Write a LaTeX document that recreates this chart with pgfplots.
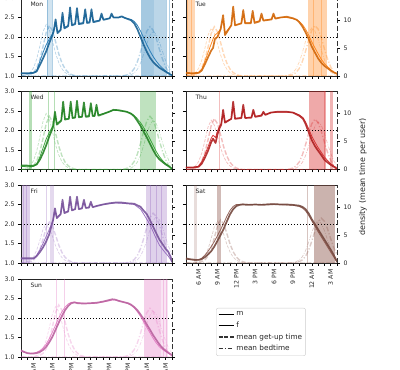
\documentclass[border=0pt]{standalone}
\usepackage{fontspec}
\setmainfont{DejaVu Sans}
\usepackage{pgfplots}
\usepackage{pgfplotstable}
\pgfplotsset{compat=1.18}
\definecolor{cMon}{HTML}{1F77B4}
\definecolor{cTue}{HTML}{FF7F0E}
\definecolor{cWed}{HTML}{2CA02C}
\definecolor{cThu}{HTML}{D62728}
\definecolor{cFri}{HTML}{9467BD}
\definecolor{cSat}{HTML}{8C564B}
\definecolor{cSun}{HTML}{E377C2}
\pgfplotsset{
 base/.style={scale only axis, width=151pt, height=78pt, anchor=south west, xmin=4, xmax=28,
   tick align=outside, major tick length=3pt,
   every tick/.style={black, line width=0.5pt},
   every tick label/.append style={font=\fontsize{6.2}{7}\selectfont, text=black!85},
   /pgf/number format/assume math mode=true},
 main/.style={base, ymin=1, ymax=3, ytick={1,1.5,2,2.5,3},
   yticklabel style={/pgf/number format/.cd, fixed, fixed zerofill, precision=1},
   xtick={4,...,28}, axis x line*=box, axis y line*=left, xtick pos=left,
   axis line style={black!85, line width=0.6pt}},
 twin/.style={base, ymin=0, ymax=13.93, ytick={0,5,10}, axis y line*=right, axis x line=none,
   y axis line style={black!80, line width=0.6pt, dash pattern=on 5pt off 2.5pt}},
 noxl/.style={xticklabel={\relax}},
 noyl/.style={yticklabel={\relax}},
 bottomlab/.style={xticklabels={,,6 AM,,,9 AM,,,12 PM,,,3 PM,,,6 PM,,,9 PM,,,12 AM,,,3 AM,},
   xticklabel style={rotate=90, anchor=east}},
 mline/.style={color=#1!82!black, line width=1.7pt, opacity=0.9, line join=round},
 fline/.style={color=#1, line width=0.8pt, opacity=0.9, line join=round},
 gmline/.style={line width=1.4pt, opacity=0.3, dash pattern=on 4.5pt off 2pt},
 gfline/.style={line width=0.7pt, opacity=0.3, dash pattern=on 3pt off 1.5pt},
 bmline/.style={line width=1.4pt, opacity=0.3, dash pattern=on 5pt off 2pt on 1.2pt off 2pt},
 bfline/.style={line width=0.7pt, opacity=0.3, dash pattern=on 3.5pt off 1.5pt on 0.8pt off 1.5pt},
}
\newcommand{\vspan}[4]{\addplot[draw=none, fill=#1, fill opacity=#4] coordinates {(#2,1)(#2,3)(#3,3)(#3,1)} -- cycle;}
\newcommand{\vln}[2]{\addplot[#1, line width=0.5pt, opacity=0.35] coordinates {(#2,1)(#2,3)};}
\newcommand{\dotl}{\addplot[black, line width=0.7pt, dash pattern=on 0.7pt off 2.3pt] coordinates {(4,2)(28,2)};}
\newcommand{\daylab}[1]{\node[anchor=west, font=\fontsize{6}{7}\selectfont, text=black!85] at (rel axis cs:0.04,0.92) {#1};}

\pgfplotstableread{
h m f
4 1.07 1.06
5 1.07 1.06
6 1.08 1.08
6.5 1.12 1.14
7 1.28 1.38
7.5 1.45 1.6
8 1.63 1.8
8.5 1.85 1.95
9 2.05 2.08
9.2 2.15 2.16
9.5 2.45 2.38
9.8 2.1 2.12
10.3 2.18 2.2
10.6 2.62 2.52
10.9 2.22 2.24
11.5 2.28 2.3
11.8 2.76 2.62
12.1 2.3 2.32
12.6 2.33 2.34
12.9 2.74 2.62
13.2 2.33 2.35
13.9 2.35 2.37
14.2 2.71 2.6
14.5 2.36 2.38
14.9 2.37 2.39
15.2 2.71 2.6
15.5 2.38 2.4
16.5 2.42 2.43
16.8 2.6 2.54
17.1 2.44 2.45
18.1 2.48 2.48
18.4 2.6 2.56
18.7 2.5 2.5
19.5 2.5 2.5
20 2.53 2.52
20.5 2.49 2.49
21 2.46 2.47
21.5 2.43 2.45
22 2.35 2.4
22.5 2.2 2.3
23 2.0 2.15
23.5 1.8 1.98
24 1.62 1.8
24.5 1.47 1.64
25 1.36 1.5
25.5 1.28 1.38
26 1.21 1.28
26.5 1.16 1.2
27 1.11 1.13
27.5 1.06 1.07
28 1.02 1.01
}\tMon
\pgfplotstableread{
h m f
4 1.08 1.07
5 1.07 1.06
6 1.08 1.09
6.5 1.14 1.17
7 1.3 1.38
7.5 1.48 1.6
8 1.65 1.82
8.3 1.72 1.95
8.6 1.95 2.05
9 2.0 2.1
9.5 2.2 2.2
9.9 2.56 2.45
10.2 2.05 2.1
11.2 2.3 2.3
11.5 2.78 2.62
11.8 2.3 2.3
12.8 2.35 2.35
13.1 2.69 2.58
13.4 2.35 2.36
14.3 2.35 2.37
14.6 2.67 2.56
14.9 2.36 2.38
15.7 2.4 2.42
16 2.6 2.52
16.3 2.42 2.43
17.6 2.45 2.46
17.9 2.6 2.55
18.2 2.47 2.48
19 2.5 2.5
20 2.52 2.5
21 2.48 2.47
21.6 2.44 2.44
22 2.38 2.4
22.5 2.27 2.32
23 2.12 2.2
23.5 1.95 2.05
24 1.75 1.87
24.5 1.6 1.72
25 1.45 1.57
25.5 1.34 1.43
26 1.26 1.32
26.5 1.2 1.24
27 1.14 1.16
27.5 1.09 1.1
28 1.06 1.05
}\tTue
\pgfplotstableread{
h m f
4 1.1 1.08
5 1.1 1.07
5.5 1.09 1.07
6 1.1 1.08
6.5 1.13 1.14
7 1.25 1.32
7.5 1.42 1.55
8 1.62 1.78
8.5 1.85 1.95
9 2.05 2.1
9.1 2.1 2.12
9.4 2.48 2.4
9.7 2.15 2.18
10.4 2.25 2.27
10.7 2.74 2.6
11 2.28 2.3
11.6 2.3 2.3
11.9 2.74 2.6
12.2 2.32 2.32
12.6 2.33 2.34
12.9 2.76 2.62
13.2 2.34 2.35
13.7 2.35 2.36
14 2.72 2.6
14.3 2.35 2.37
14.8 2.36 2.38
15.1 2.7 2.6
15.4 2.37 2.38
15.7 2.37 2.39
16 2.66 2.57
16.3 2.38 2.4
17 2.42 2.43
18 2.48 2.48
18.7 2.53 2.52
19.5 2.52 2.51
20.8 2.48 2.48
21.5 2.43 2.44
22 2.36 2.38
22.4 2.27 2.32
23 2.12 2.2
23.4 2.0 2.1
24 1.82 1.94
24.5 1.66 1.78
25 1.5 1.62
25.5 1.36 1.46
26 1.26 1.33
26.6 1.18 1.21
27 1.13 1.15
27.5 1.08 1.09
28 1.02 1.02
}\tWed
\pgfplotstableread{
h m f
4 1.05 1.05
5 1.05 1.05
6 1.07 1.08
6.5 1.15 1.2
7 1.3 1.38
7.5 1.48 1.58
8 1.7 1.8
8.3 1.79 1.88
8.7 1.68 1.82
9 1.9 1.98
9.3 2.05 2.1
9.6 2.15 2.18
9.9 2.53 2.42
10.2 2.2 2.22
11.2 2.3 2.3
11.5 2.74 2.6
11.8 2.3 2.31
12.8 2.32 2.33
13.1 2.66 2.55
13.4 2.32 2.33
14.4 2.33 2.34
14.7 2.53 2.47
15 2.35 2.36
16 2.38 2.4
16.3 2.48 2.45
16.6 2.4 2.41
17.5 2.46 2.46
18.5 2.48 2.47
20 2.48 2.47
21 2.46 2.46
22 2.38 2.4
22.6 2.3 2.33
23 2.17 2.22
23.4 2.0 2.08
24 1.75 1.85
24.5 1.6 1.7
25 1.48 1.56
25.5 1.37 1.44
26 1.25 1.32
26.5 1.18 1.23
27 1.12 1.15
27.5 1.07 1.09
28 1.02 1.02
}\tThu
\pgfplotstableread{
h m f
4 1.12 1.1
5 1.12 1.1
6 1.12 1.1
6.5 1.18 1.2
7 1.28 1.34
7.5 1.4 1.5
8 1.55 1.68
8.5 1.74 1.86
9 2.05 2.05
9.1 2.1 2.1
9.4 2.4 2.32
9.7 2.15 2.16
10.3 2.25 2.26
10.6 2.62 2.52
10.9 2.28 2.3
11.5 2.32 2.33
11.8 2.7 2.6
12.1 2.35 2.35
12.6 2.38 2.38
12.9 2.7 2.6
13.2 2.38 2.39
13.7 2.4 2.41
14 2.62 2.55
14.3 2.41 2.42
14.8 2.42 2.43
15.1 2.57 2.52
15.4 2.43 2.44
16 2.46 2.46
17 2.5 2.5
18 2.53 2.52
19 2.55 2.54
20 2.55 2.53
21 2.53 2.52
22 2.52 2.5
23 2.44 2.38
23.4 2.36 2.28
24 2.25 2.12
24.5 2.1 1.98
25 1.93 1.8
25.5 1.76 1.62
26 1.6 1.46
26.6 1.46 1.33
27 1.36 1.25
27.4 1.29 1.18
27.8 1.15 1.08
28 1.03 1.02
}\tFri
\pgfplotstableread{
h m f
4 1.12 1.1
4.5 1.1 1.09
5 1.09 1.08
5.5 1.08 1.07
6 1.08 1.08
6.5 1.1 1.12
7 1.15 1.2
7.5 1.22 1.3
8 1.3 1.42
8.5 1.42 1.55
9 1.57 1.7
9.5 1.72 1.86
10 1.88 2.02
10.5 2.07 2.2
11 2.25 2.35
11.5 2.38 2.45
12 2.46 2.5
12.5 2.49 2.5
13 2.5 2.51
14 2.49 2.5
15 2.5 2.5
16 2.49 2.5
17 2.5 2.51
18 2.51 2.51
19 2.5 2.5
20 2.5 2.49
21 2.49 2.48
22 2.47 2.45
22.5 2.44 2.41
23 2.38 2.34
23.5 2.27 2.22
24 2.12 2.08
24.5 1.99 1.94
25 1.86 1.8
25.5 1.73 1.67
26 1.6 1.54
26.5 1.47 1.41
27 1.34 1.28
27.5 1.2 1.15
28 1.04 1.02
}\tSat
\pgfplotstableread{
h m f
4 1.17 1.15
4.5 1.13 1.12
5 1.1 1.1
5.5 1.09 1.09
6 1.09 1.1
6.5 1.1 1.12
7 1.13 1.16
7.5 1.18 1.23
8 1.26 1.33
8.5 1.38 1.47
9 1.52 1.64
9.5 1.7 1.82
10 1.88 2.0
10.5 2.05 2.16
11 2.2 2.28
11.5 2.31 2.36
12 2.38 2.4
12.5 2.4 2.41
13 2.38 2.39
14 2.37 2.38
15 2.38 2.37
16 2.39 2.38
17 2.42 2.41
18 2.46 2.44
18.5 2.48 2.46
19 2.47 2.46
19.5 2.44 2.45
20 2.42 2.42
20.5 2.4 2.4
21 2.38 2.37
21.5 2.34 2.33
22 2.28 2.26
22.5 2.2 2.16
23 2.09 2.04
23.5 1.97 1.9
24 1.83 1.76
24.5 1.7 1.62
25 1.56 1.48
25.5 1.44 1.36
26 1.32 1.26
26.5 1.23 1.19
27 1.16 1.14
27.5 1.1 1.09
28 1.05 1.03
}\tSun

\begin{document}
\begin{tikzpicture}
% ---------------- Mon
\begin{axis}[main, noxl, at={(21pt,294pt)}]
\vspan{cMon}{8.1}{8.9}{0.2}\vln{cMon}{8.1}\vln{cMon}{8.9}
\vspan{cMon}{23.1}{25.1}{0.4}\vspan{cMon}{25.1}{27.1}{0.3}\vln{cMon}{27.1}\vln{cMon}{27.6}
\dotl
\addplot[fline=cMon] table[x=h,y=f]{\tMon};
\addplot[mline=cMon] table[x=h,y=m]{\tMon};
\daylab{Mon}
\end{axis}
\begin{axis}[twin, noyl, at={(21pt,294pt)}]
\addplot[cMon, gmline] coordinates {(4,0)(4.5,0)(5,0.09)(5.5,0.27)(6,0.63)(6.5,1.44)(7,2.97)(7.5,5.22)(8,7.74)(8.5,9.0)(9,8.1)(9.5,6.12)(10,3.96)(10.5,2.34)(11,1.26)(11.5,0.63)(12,0.27)(12.5,0.09)(13,0)(28,0)};
\addplot[cMon, gfline] coordinates {(4,0)(4.5,0.09)(5,0.28)(5.5,0.64)(6,1.47)(6.5,3.04)(7,5.34)(7.5,7.91)(8,9.2)(8.5,8.28)(9,6.26)(9.5,4.05)(10,2.39)(10.5,1.29)(11,0.64)(11.5,0.28)(12,0.09)(12.5,0)(28,0)};
\addplot[cMon, bmline] coordinates {(4,0)(20,0)(20.5,0.09)(21,0.26)(21.5,0.62)(22,1.32)(22.5,2.55)(23,4.31)(23.5,6.34)(24,8.01)(24.5,8.8)(25,8.18)(25.5,6.69)(26,4.75)(26.5,2.99)(27,1.58)(27.5,0.7)(28,0.26)};
\addplot[cMon, bfline] coordinates {(4,0)(20.5,0)(21,0.08)(21.5,0.24)(22,0.56)(22.5,1.2)(23,2.32)(23.5,3.92)(24,5.76)(24.5,7.28)(25,8.0)(25.5,7.44)(26,6.08)(26.5,4.32)(27,2.72)(27.5,1.44)(28,0.64)};
\end{axis}
% ---------------- Tue
\begin{axis}[main, noxl, noyl, at={(186pt,294pt)}]
\vspan{cTue}{4.1}{5.4}{0.3}\vln{cTue}{4.2}\vln{cTue}{4.8}
\vspan{cTue}{23.4}{26.3}{0.35}\vln{cTue}{24.2}\vln{cTue}{25.5}\vln{cTue}{26.3}
\dotl
\addplot[fline=cTue] table[x=h,y=f]{\tTue};
\addplot[mline=cTue] table[x=h,y=m]{\tTue};
\daylab{Tue}
\end{axis}
\begin{axis}[twin, at={(186pt,294pt)}]
\addplot[cTue, gmline] coordinates {(4,0)(4.5,0)(5,0.09)(5.5,0.26)(6,0.62)(6.5,1.41)(7,2.9)(7.5,5.1)(8,7.57)(8.5,8.8)(9,7.92)(9.5,5.98)(10,3.87)(10.5,2.29)(11,1.23)(11.5,0.62)(12,0.26)(12.5,0.09)(13,0)(28,0)};
\addplot[cTue, gfline] coordinates {(4,0)(4.5,0.09)(5,0.26)(5.5,0.6)(6,1.36)(6.5,2.81)(7,4.93)(7.5,7.31)(8,8.5)(8.5,7.65)(9,5.78)(9.5,3.74)(10,2.21)(10.5,1.19)(11,0.6)(11.5,0.26)(12,0.09)(12.5,0)(28,0)};
\addplot[cTue, bmline] coordinates {(4,0)(20,0)(20.5,0.09)(21,0.27)(21.5,0.63)(22,1.35)(22.5,2.61)(23,4.41)(23.5,6.48)(24,8.19)(24.5,9.0)(25,8.37)(25.5,6.84)(26,4.86)(26.5,3.06)(27,1.62)(27.5,0.72)(28,0.27)};
\addplot[cTue, bfline] coordinates {(4,0)(19.5,0)(20,0.09)(20.5,0.26)(21,0.6)(21.5,1.29)(22,2.49)(22.5,4.21)(23,6.19)(23.5,7.83)(24,8.6)(24.5,8.0)(25,6.54)(25.5,4.64)(26,2.92)(26.5,1.55)(27,0.69)(27.5,0.26)(28,0.09)};
\end{axis}
% ---------------- Wed
\begin{axis}[main, noxl, at={(21pt,200.5pt)}]
\vspan{cWed}{5.3}{5.8}{0.35}\vln{cWed}{8.3}\vln{cWed}{9.3}
\vspan{cWed}{22.9}{25.4}{0.3}
\dotl
\addplot[fline=cWed] table[x=h,y=f]{\tWed};
\addplot[mline=cWed] table[x=h,y=m]{\tWed};
\daylab{Wed}
\end{axis}
\begin{axis}[twin, noyl, at={(21pt,200.5pt)}]
\addplot[cWed, gmline] coordinates {(4,0)(4.5,0)(5,0.1)(5.5,0.29)(6,0.67)(6.5,1.52)(7,3.14)(7.5,5.51)(8,8.17)(8.5,9.5)(9,8.55)(9.5,6.46)(10,4.18)(10.5,2.47)(11,1.33)(11.5,0.67)(12,0.29)(12.5,0.1)(13,0)(28,0)};
\addplot[cWed, gfline] coordinates {(4,0)(4.5,0.1)(5,0.3)(5.5,0.7)(6,1.6)(6.5,3.3)(7,5.8)(7.5,8.6)(8,10)(8.5,9)(9,6.8)(9.5,4.4)(10,2.6)(10.5,1.4)(11,0.7)(11.5,0.3)(12,0.1)(12.5,0)(28,0)};
\addplot[cWed, bmline] coordinates {(4,0)(20,0)(20.5,0.1)(21,0.29)(21.5,0.67)(22,1.43)(22.5,2.76)(23,4.66)(23.5,6.84)(24,8.65)(24.5,9.5)(25,8.84)(25.5,7.22)(26,5.13)(26.5,3.23)(27,1.71)(27.5,0.76)(28,0.29)};
\addplot[cWed, bfline] coordinates {(4,0)(20.5,0)(21,0.09)(21.5,0.26)(22,0.62)(22.5,1.32)(23,2.55)(23.5,4.31)(24,6.34)(24.5,8.01)(25,8.8)(25.5,8.18)(26,6.69)(26.5,4.75)(27,2.99)(27.5,1.58)(28,0.7)};
\end{axis}
% ---------------- Thu
\begin{axis}[main, noxl, noyl, at={(186pt,200.5pt)}]
\vspan{cThu}{9.2}{9.4}{0.3}
\vspan{cThu}{23.6}{26.2}{0.4}\vln{cThu}{25.9}\vspan{cThu}{26.9}{27.4}{0.35}
\dotl
\addplot[fline=cThu] table[x=h,y=f]{\tThu};
\addplot[mline=cThu] table[x=h,y=m]{\tThu};
\daylab{Thu}
\end{axis}
\begin{axis}[twin, at={(186pt,200.5pt)}]
\addplot[cThu, gmline] coordinates {(4,0)(4.5,0)(5,0.09)(5.5,0.27)(6,0.64)(6.5,1.46)(7,3.0)(7.5,5.28)(8,7.83)(8.5,9.1)(9,8.19)(9.5,6.19)(10,4.0)(10.5,2.37)(11,1.27)(11.5,0.64)(12,0.27)(12.5,0.09)(13,0)(28,0)};
\addplot[cThu, gfline] coordinates {(4,0)(4.5,0.09)(5,0.26)(5.5,0.62)(6,1.41)(6.5,2.9)(7,5.1)(7.5,7.57)(8,8.8)(8.5,7.92)(9,5.98)(9.5,3.87)(10,2.29)(10.5,1.23)(11,0.62)(11.5,0.26)(12,0.09)(12.5,0)(28,0)};
\addplot[cThu, bmline] coordinates {(4,0)(20,0)(20.5,0.09)(21,0.27)(21.5,0.63)(22,1.35)(22.5,2.61)(23,4.41)(23.5,6.48)(24,8.19)(24.5,9.0)(25,8.37)(25.5,6.84)(26,4.86)(26.5,3.06)(27,1.62)(27.5,0.72)(28,0.27)};
\addplot[cThu, bfline] coordinates {(4,0)(20.5,0)(21,0.09)(21.5,0.26)(22,0.6)(22.5,1.28)(23,2.47)(23.5,4.17)(24,6.12)(24.5,7.74)(25,8.5)(25.5,7.91)(26,6.46)(26.5,4.59)(27,2.89)(27.5,1.53)(28,0.68)};
\end{axis}
% ---------------- Fri
\begin{axis}[main, noxl, at={(21pt,107pt)}]
\vspan{cFri}{4.1}{5.4}{0.3}\vln{cFri}{4.4}\vln{cFri}{4.8}
\vspan{cFri}{7.9}{8.2}{0.3}\vspan{cFri}{8.6}{9.3}{0.25}
\vspan{cFri}{23.8}{27.2}{0.3}\vln{cFri}{24.5}\vln{cFri}{25.5}\vln{cFri}{26.3}
\dotl
\addplot[fline=cFri] table[x=h,y=f]{\tFri};
\addplot[mline=cFri] table[x=h,y=m]{\tFri};
\daylab{Fri}
\end{axis}
\begin{axis}[twin, noyl, at={(21pt,107pt)}]
\addplot[cFri, gmline] coordinates {(4,0)(4.5,0)(5,0.07)(5.5,0.22)(6,0.51)(6.5,1.17)(7,2.41)(7.5,4.23)(8,6.28)(8.5,7.3)(9,6.57)(9.5,4.96)(10,3.21)(10.5,1.9)(11,1.02)(11.5,0.51)(12,0.22)(12.5,0.07)(13,0)(28,0)};
\addplot[cFri, gfline] coordinates {(4,0)(4.5,0.07)(5,0.21)(5.5,0.49)(6,1.12)(6.5,2.31)(7,4.06)(7.5,6.02)(8,7.0)(8.5,6.3)(9,4.76)(9.5,3.08)(10,1.82)(10.5,0.98)(11,0.49)(11.5,0.21)(12,0.07)(12.5,0)(28,0)};
\addplot[cFri, bmline] coordinates {(4,0)(20.5,0)(21,0.09)(21.5,0.27)(22,0.62)(22.5,1.34)(23,2.58)(23.5,4.36)(24,6.41)(24.5,8.1)(25,8.9)(25.5,8.28)(26,6.76)(26.5,4.81)(27,3.03)(27.5,1.6)(28,0.71)};
\addplot[cFri, bfline] coordinates {(4,0)(21,0)(21.5,0.08)(22,0.25)(22.5,0.58)(23,1.25)(23.5,2.41)(24,4.07)(24.5,5.98)(25,7.55)(25.5,8.3)(26,7.72)(26.5,6.31)(27,4.48)(27.5,2.82)(28,1.49)};
\end{axis}
% ---------------- Sat
\begin{axis}[main, bottomlab, noyl, at={(186pt,107pt)}]
\vspan{cSat}{5.3}{5.7}{0.2}\vspan{cSat}{9.0}{9.5}{0.4}\vln{cSat}{23.3}
\vspan{cSat}{24.3}{27.65}{0.45}
\dotl
\addplot[fline=cSat] table[x=h,y=f]{\tSat};
\addplot[mline=cSat] table[x=h,y=m]{\tSat};
\daylab{Sat}
\end{axis}
\begin{axis}[twin, at={(186pt,107pt)}]
\addplot[cSat, gmline] coordinates {(4,0)(5.5,0)(6,0.08)(6.5,0.23)(7,0.54)(7.5,1.23)(8,2.54)(8.5,4.47)(9,6.62)(9.5,7.7)(10,6.93)(10.5,5.24)(11,3.39)(11.5,2.0)(12,1.08)(12.5,0.54)(13,0.23)(13.5,0.08)(14,0)(28,0)};
\addplot[cSat, gfline] coordinates {(4,0)(5,0)(5.5,0.08)(6,0.23)(6.5,0.53)(7,1.2)(7.5,2.48)(8,4.35)(8.5,6.45)(9,7.5)(9.5,6.75)(10,5.1)(10.5,3.3)(11,1.95)(11.5,1.05)(12,0.53)(12.5,0.23)(13,0.08)(13.5,0)(28,0)};
\addplot[cSat, bmline] coordinates {(4,0)(21,0)(21.5,0.08)(22,0.24)(22.5,0.56)(23,1.2)(23.5,2.32)(24,3.92)(24.5,5.76)(25,7.28)(25.5,8.0)(26,7.44)(26.5,6.08)(27,4.32)(27.5,2.72)(28,1.44)};
\addplot[cSat, bfline] coordinates {(4,0)(20.5,0)(21,0.08)(21.5,0.23)(22,0.53)(22.5,1.14)(23,2.2)(23.5,3.72)(24,5.47)(24.5,6.92)(25,7.6)(25.5,7.07)(26,5.78)(26.5,4.1)(27,2.58)(27.5,1.37)(28,0.61)};
\end{axis}
% ---------------- Sun
\begin{axis}[main, bottomlab, at={(21pt,13pt)}]
\vln{cSun}{9.56}\vln{cSun}{10.9}
\vspan{cSun}{23.6}{26.2}{0.35}\vspan{cSun}{26.2}{27.3}{0.2}\vln{cSun}{26.6}\vln{cSun}{27.1}
\dotl
\addplot[fline=cSun] table[x=h,y=f]{\tSun};
\addplot[mline=cSun] table[x=h,y=m]{\tSun};
\daylab{Sun}
\end{axis}
\begin{axis}[twin, noyl, at={(21pt,13pt)}]
\addplot[cSun, gmline] coordinates {(4,0)(6,0)(6.5,0.09)(7,0.28)(7.5,0.65)(8,1.49)(8.5,3.07)(9,5.39)(9.5,8.0)(10,9.3)(10.5,8.37)(11,6.32)(11.5,4.09)(12,2.42)(12.5,1.3)(13,0.65)(13.5,0.28)(14,0.09)(14.5,0)(28,0)};
\addplot[cSun, gfline] coordinates {(4,0)(5.5,0)(6,0.09)(6.5,0.27)(7,0.63)(7.5,1.44)(8,2.97)(8.5,5.22)(9,7.74)(9.5,9.0)(10,8.1)(10.5,6.12)(11,3.96)(11.5,2.34)(12,1.26)(12.5,0.63)(13,0.27)(13.5,0.09)(14,0)(28,0)};
\addplot[cSun, bmline] coordinates {(4,0)(20,0)(20.5,0.09)(21,0.26)(21.5,0.61)(22,1.31)(22.5,2.52)(23,4.26)(23.5,6.26)(24,7.92)(24.5,8.7)(25,8.09)(25.5,6.61)(26,4.7)(26.5,2.96)(27,1.57)(27.5,0.7)(28,0.26)};
\addplot[cSun, bfline] coordinates {(4,0)(20.5,0)(21,0.08)(21.5,0.25)(22,0.57)(22.5,1.23)(23,2.38)(23.5,4.02)(24,5.9)(24.5,7.46)(25,8.2)(25.5,7.63)(26,6.23)(26.5,4.43)(27,2.79)(27.5,1.48)(28,0.66)};
\end{axis}
% ---------------- legend
\begin{axis}[at={(216pt,17pt)}, anchor=south west, scale only axis, width=92pt, height=45pt,
  hide axis, xmin=0, xmax=1, ymin=0, ymax=1,
  legend style={at={(0,1)}, anchor=north west, draw=black!20, rounded corners=2pt,
    font=\fontsize{7.3}{8.5}\selectfont, text=black!85, inner sep=1.5pt, row sep=0.6pt},
  legend cell align=left,
  legend image code/.code={\draw[#1] (0pt,0pt) -- (15pt,0pt);}]
\addlegendimage{black, line width=1.7pt}\addlegendentry{m}
\addlegendimage{black, line width=0.8pt}\addlegendentry{f}
\addlegendimage{black!80, line width=1.2pt, dash pattern=on 4pt off 1.8pt}\addlegendentry{mean get-up time}
\addlegendimage{black!80, line width=1.2pt, dash pattern=on 4.5pt off 1.8pt on 1pt off 1.8pt}\addlegendentry{mean bedtime}
\end{axis}
\node[rotate=90, font=\fontsize{8}{9.6}\selectfont, text=black!85] at (363pt,193pt) {density (mean time per user)};
\pgfresetboundingbox
\useasboundingbox (0,0) rectangle (400pt,370pt);
\end{tikzpicture}
\end{document}
